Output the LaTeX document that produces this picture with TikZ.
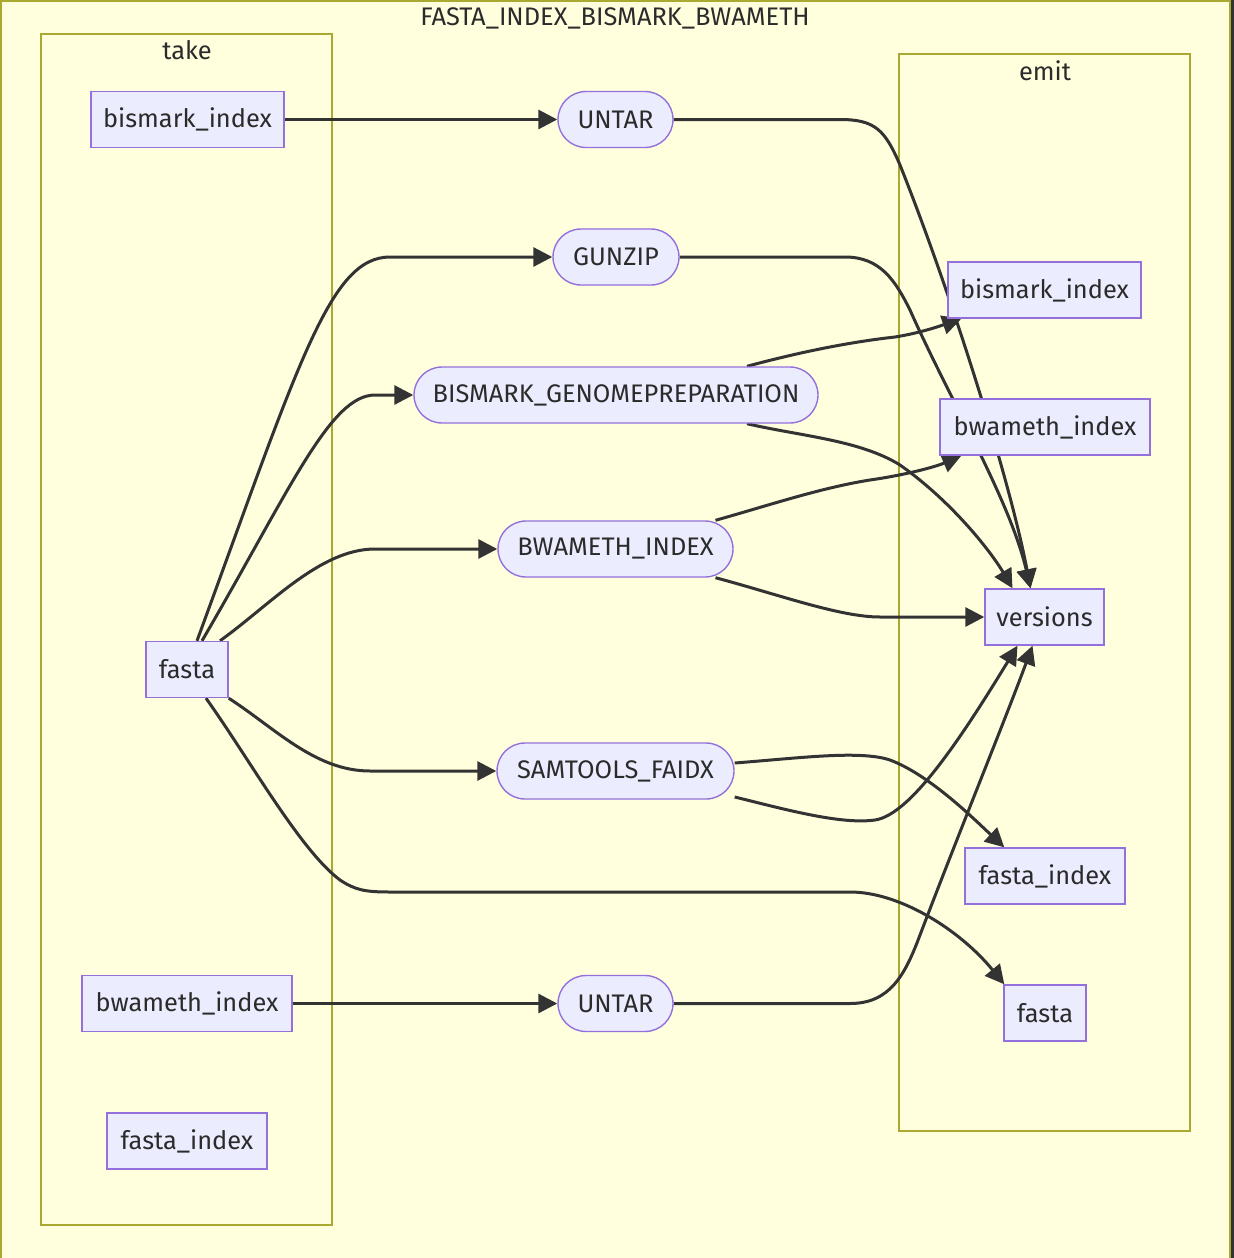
\documentclass[tikz,border=0pt]{standalone}
\usepackage{fontspec}
\setmainfont{Fira Sans}
\usetikzlibrary{arrows.meta,calc}
\definecolor{bg}{HTML}{FFFFDE}
\definecolor{clu}{HTML}{AAAA33}
\definecolor{nfill}{HTML}{ECECFF}
\definecolor{nstroke}{HTML}{9370DB}
\definecolor{edgec}{HTML}{333333}
\definecolor{txt}{HTML}{2B2B2B}
\pgfdeclarelayer{bg}
\pgfdeclarelayer{edges}
\pgfsetlayers{bg,edges,main}
\begin{document}
\begin{tikzpicture}[x=0.5pt,y=-0.5pt,
  lbl/.style={text=txt,font=\fontsize{12.7}{15}\selectfont,inner sep=0pt},
  box/.style={lbl,draw=nstroke,fill=nfill,line width=0.7pt,minimum width=#1},
  rbox/.style={box=#1,minimum height=28pt},
  sbox/.style={box=#1,minimum height=28pt,rounded corners=14pt},
  conn/.style={draw=edgec,line width=1.5pt,-{Triangle[length=9.5pt,width=9.5pt]}},
  cluster/.style={draw=clu,line width=0.75pt}]
\useasboundingbox (0,0) rectangle (1234,1258);
\begin{pgfonlayer}{bg}
\fill[edgec] (1231,0) rectangle (1234,1258);
\draw[cluster,fill=bg,line width=1.1pt] (1,1) rectangle (1230,1270);
\draw[cluster] (41,34) rectangle (332,1225);
\draw[cluster] (899,54) rectangle (1190,1131);
\end{pgfonlayer}
\node[lbl] (title) at (615,18) {FASTA\_INDEX\_BISMARK\_BWAMETH};
\node[lbl] (takel) at (187,50) {take};
\node[lbl] (emitl) at (1045,71) {emit};
% take nodes
\node[rbox=96.5pt] (tbi) at (187.5,119.5) {bismark\_index};
\node[rbox=41pt] (tf) at (187,669.5) {fasta};
\node[rbox=105pt] (tbw) at (187,1003.5) {bwameth\_index};
\node[rbox=80pt] (tfi) at (187,1141) {fasta\_index};
% emit nodes
\node[rbox=96.5pt] (ebi) at (1044.5,290) {bismark\_index};
\node[rbox=105pt] (ebw) at (1045,427) {bwameth\_index};
\node[rbox=59.5pt] (ver) at (1044.5,617) {versions};
\node[rbox=80pt] (efi) at (1045,876) {fasta\_index};
\node[rbox=41pt] (ef) at (1045,1013) {fasta};
% process nodes
\node[sbox=57.5pt] (u1) at (615.5,119.5) {UNTAR};
\node[sbox=63pt] (gz) at (616,257) {GUNZIP};
\node[sbox=202pt] (bgp) at (616,395) {BISMARK\_GENOMEPREPARATION};
\node[sbox=117.5pt] (bwi) at (615.5,549) {BWAMETH\_INDEX};
\node[sbox=118.5pt] (sam) at (615.5,771) {SAMTOOLS\_FAIDX};
\node[sbox=57.5pt] (u2) at (615.5,1003.5) {UNTAR};
\begin{pgfonlayer}{edges}
\draw[conn] (tbi.east) -- (u1.west);
\draw[conn] (tbw.east) -- (u2.west);
\draw[conn] ($(tf.north)+(10,0)$) .. controls (300,360) and (330,257) .. (390,257) -- (gz.west);
\draw[conn] ($(tf.north)+(15,0)$) .. controls (290,490) and (330,395) .. (375,395) -- (bgp.west);
\draw[conn] ($(tf.north)+(33,0)$) .. controls (270,605) and (320,549) .. (375,549) -- (bwi.west);
\draw[conn] (tf.south east) .. controls (275,728) and (315,771) .. (370,771) -- (sam.west);
\draw[conn] ($(tf.south)+(19,0)$) .. controls (250,760) and (300,850) .. (340,880) .. controls (355,890) and (365,892) .. (390,892) -- (850,892) .. controls (900,892) and (960,930) .. ($(ef.north west)+(1,0)$);
\draw[conn] (u1.east) -- (840,119.5) .. controls (875,119.5) and (885,130) .. (900,165) .. controls (950,290) and (1010,480) .. ($(ver.north)+(-14,0)$);
\draw[conn] (gz.east) -- (845,257) .. controls (880,257) and (895,280) .. (910,310) .. controls (950,400) and (1010,500) .. ($(ver.north)+(-14,0)$);
\draw[conn] ($(bgp.north)+(131,0)$) .. controls (800,352) and (850,342) .. (895,337) .. controls (920,333) and (940,326) .. ($(ebi.south west)+(14,0)$);
\draw[conn] ($(bgp.south)+(131,0)$) .. controls (800,436) and (860,440) .. (900,465) .. controls (950,500) and (990,550) .. ($(ver.north)+(-32,0)$);
\draw[conn] ($(bwi.north)+(100,0)$) .. controls (770,505) and (820,488) .. (870,480) .. controls (905,475) and (935,467) .. ($(ebw.south west)+(22,0)$);
\draw[conn] ($(bwi.south)+(100,0)$) .. controls (780,595) and (840,617) .. (880,617) -- (ver.west);
\draw[conn] ($(sam.east)+(0,-8)$) .. controls (800,758) and (860,750) .. (890,760) .. controls (930,775) and (975,820) .. ($(efi.north west)+(40,0)$);
\draw[conn] ($(sam.east)+(0,26)$) .. controls (780,808) and (840,825) .. (875,820) .. controls (910,815) and (960,740) .. ($(ver.south)+(-27,0)$);
\draw[conn] (u2.east) -- (850,1003.5) .. controls (890,1003.5) and (905,975) .. (920,935) .. controls (960,830) and (1005,720) .. ($(ver.south)+(-12,0)$);
\end{pgfonlayer}
\end{tikzpicture}
\end{document}
